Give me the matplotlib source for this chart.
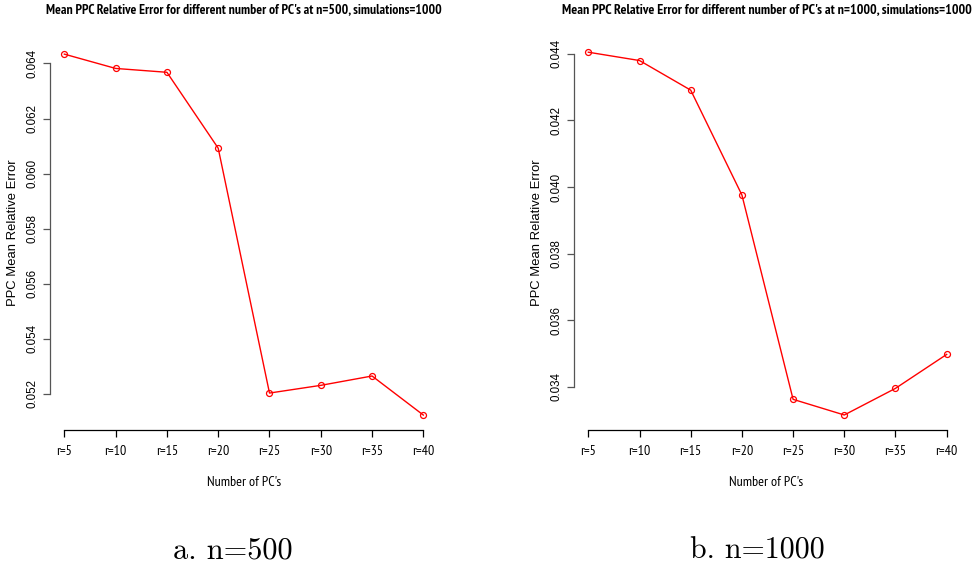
import matplotlib
matplotlib.use("Agg")
import matplotlib.pyplot as plt
from matplotlib import font_manager
from matplotlib.font_manager import FontProperties

# ---- data ----
categories = ["r=5", "r=10", "r=15", "r=20", "r=25", "r=30", "r=35", "r=40"]
err_n500 = [0.06434, 0.06382, 0.06368, 0.06092, 0.05202, 0.05230, 0.05264, 0.05122]
err_n1000 = [0.04405, 0.04380, 0.04291, 0.03976, 0.03362, 0.03315, 0.03395, 0.03497]
yticks_n500 = [0.052, 0.054, 0.056, 0.058, 0.060, 0.062, 0.064]
yticks_n1000 = [0.034, 0.036, 0.038, 0.040, 0.042, 0.044]
titles = ["Mean PPC Relative Error for different number of PC's at n=500, simulations=1000",
          "Mean PPC Relative Error for different number of PC's at n=1000, simulations=1000"]
captions = ["a. n=500", "b. n=1000"]
xlabel = "Number of PC's"
ylabel = "PPC Mean Relative Error"


def is_bold(f):
    w = f.weight
    if isinstance(w, str):
        return w in ("bold", "heavy", "black", "extra bold", "demibold", "semibold")
    return w >= 600


def find_narrow(bold=False):
    best, best_score = None, -1
    for f in font_manager.fontManager.ttflist:
        if is_bold(f) != bold or f.style != "normal":
            continue
        fn = f.fname.lower()
        nm = f.name.lower()
        if "sans" not in nm or "mono" in nm or "cjk" in nm:
            continue
        score = -1
        if "narrow" in nm or "narrow" in fn:
            score = 10
        elif ("condensed" in nm or "condensed" in fn or f.stretch in ("condensed",)) and \
                "extra" not in fn and "ultra" not in fn and "semi" not in fn:
            score = 8
        elif "semicondensed" in fn or "semi-condensed" in fn or f.stretch == "semi-condensed":
            score = 6
        if score > best_score:
            best, best_score = f, score
    if best is not None and best_score > 0:
        return FontProperties(fname=best.fname), True
    return FontProperties(family="Liberation Sans", weight="bold" if bold else "normal"), False


fp_narrow, _ = find_narrow(False)
fp_narrow_b, got_b = find_narrow(True)
if not got_b:
    fp_narrow_b = FontProperties(family="Liberation Sans", weight="bold")

W, H = 973, 572
fig = plt.figure(figsize=(W / 100, H / 100), dpi=100)
renderer = fig.canvas.get_renderer()


def width_fit_size(t, target, vertical=False):
    bb = t.get_window_extent(renderer)
    cur = bb.height if vertical else bb.width
    return t.get_fontsize() * target / cur


def px_axes(l, t, r, b):
    return fig.add_axes([l / W, 1 - b / H, (r - l) / W, (b - t) / H])


panels = [
    dict(box=(50, 39.7, 437.7, 429.5), y=err_n500, yt=yticks_n500, ylab_x=13,
         title_x=243.8, title_w=396, cap_x=233, cap_w=120),
    dict(box=(574, 37.7, 961, 429.5), y=err_n1000, yt=yticks_n1000, ylab_x=537,
         title_x=766.5, title_w=407, cap_x=757, cap_w=135),
]

probe = fig.text(0, 0, "r=10", fontproperties=fp_narrow, fontsize=8)
xtick_fs = width_fit_size(probe, 18.5) * 1.2
probe.remove()

probe = fig.text(0, 0, xlabel, fontproperties=fp_narrow, fontsize=8)
xlabel_fs = width_fit_size(probe, 62) * 1.2
probe.remove()

for i, p in enumerate(panels):
    ax = px_axes(*p["box"])
    x = list(range(len(categories)))
    ax.plot(x, p["y"], color="red", lw=1.0, marker="o", ms=4.3, mfc="none", mew=0.9)
    ax.margins(x=0.04, y=0.04)
    ax.set_xticks(x)
    ax.set_xticklabels(categories, fontproperties=fp_narrow, fontsize=xtick_fs)
    ax.set_yticks(p["yt"])
    ax.set_yticklabels([f"{v:.3f}" for v in p["yt"]], rotation=90, va="center",
                       fontfamily="Liberation Sans", fontsize=8.3)
    for s in ["top", "right"]:
        ax.spines[s].set_visible(False)
    ax.spines["bottom"].set_bounds(x[0], x[-1])
    ax.spines["left"].set_bounds(p["yt"][0], p["yt"][-1])
    ax.spines["left"].set_color("#555555")
    ax.spines["bottom"].set_color("black")
    ax.spines["left"].set_linewidth(0.9)
    ax.spines["bottom"].set_linewidth(0.9)
    ax.tick_params(axis="x", direction="out", length=5, width=0.9, pad=6)
    ax.tick_params(axis="y", direction="out", length=5, width=0.9, pad=3, color="#555555")
    ax.patch.set_visible(False)

    t = fig.text(p["title_x"] / W, 1 - 10 / H, titles[i], ha="center", va="center",
                 fontproperties=fp_narrow_b, fontsize=8)
    t.set_fontsize(width_fit_size(t, p["title_w"]))
    fig.text(p["title_x"] / W, 1 - 483 / H, xlabel, ha="center", va="center",
             fontproperties=fp_narrow, fontsize=xlabel_fs)
    t = fig.text(p["ylab_x"] / W, 1 - 233 / H, ylabel, ha="center", va="center",
                 rotation=90, fontfamily="Liberation Sans", fontsize=9)
    t.set_fontsize(width_fit_size(t, 147, vertical=True))
    t = fig.text(p["cap_x"] / W, 1 - 551 / H, captions[i], ha="center", va="center",
                 fontfamily="cmr10", fontsize=20)
    t.set_fontsize(width_fit_size(t, p["cap_w"]))

fig.savefig("out.png", dpi=100)
